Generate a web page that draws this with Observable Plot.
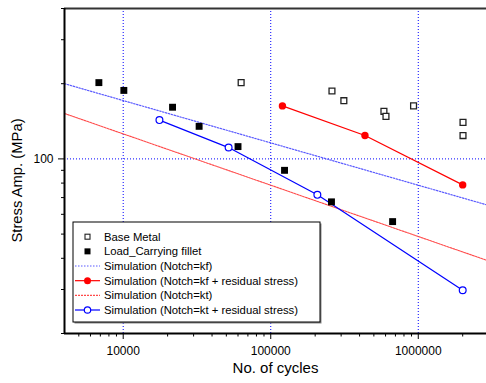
<!DOCTYPE html>
<html><head><meta charset="utf-8">
<script src="https://cdn.jsdelivr.net/npm/d3@7"></script>
<script src="https://cdn.jsdelivr.net/npm/@observablehq/plot@0.6"></script>
<style>body{margin:0;background:#fff;overflow:hidden}#chart{width:486px;height:383px}</style>
</head><body><div id="chart"></div>
<script>
// ---- data ----
const baseMetalN = [63000, 260000, 313000, 585000, 604000, 929000, 2010000, 2010000];
const baseMetalS = [202, 187, 171, 155, 148, 163, 140, 124];
const filletN = [6840, 10100, 21600, 32700, 60000, 124000, 258000, 670000];
const filletS = [202, 188, 161, 135, 112, 90, 67.3, 56.1];
const simKfN = [4000, 2900000];
const simKfS = [200, 65.5];
const simKfResN = [120000, 435000, 2000000];
const simKfResS = [163, 124, 78.7];
const simKtN = [4000, 2900000];
const simKtS = [152, 39.3];
const simKtResN = [17600, 51800, 207000, 2000000];
const simKtResS = [143, 111, 71.8, 29.8];
const xMajorTicks = [10000, 100000, 1000000];
const yMajorTicks = [100];
const xTitle = "No. of cycles";
const yTitle = "Stress Amp. (MPa)";
const legendLabels = [
  "Base Metal",
  "Load_Carrying fillet",
  "Simulation (Notch=kf)",
  "Simulation (Notch=kf + residual stress)",
  "Simulation (Notch=kt)",
  "Simulation (Notch=kt + residual stress)"
];

const xDomain = [4000, 2900000];
const yDomain = [20, 400];
const xMinorTicks = [];
for (const d of [1000, 10000, 100000, 1000000]) for (let k = 2; k <= 9; k++) {
  const v = k * d; if (v > xDomain[0] && v < xDomain[1]) xMinorTicks.push(v);
}
const yMinorTicks = [];
for (const d of [10, 100]) for (let k = 2; k <= 9; k++) {
  const v = k * d; if (v >= yDomain[0] && v <= yDomain[1] && v !== 100) yMinorTicks.push(v);
}

const zip = (xs, ys) => xs.map((x, i) => ({x, y: ys[i]}));
const base = zip(baseMetalN, baseMetalS);
const fillet = zip(filletN, filletS);
const kf = zip(simKfN, simKfS);
const kfRes = zip(simKfResN, simKfResS);
const kt = zip(simKtN, simKtS);
const ktRes = zip(simKtResN, simKtResS);

const font = "'Liberation Sans', Arial, Helvetica, sans-serif";
const BLUE = "#0000ff", RED = "#ff0000", KF = "#5a5aff", KT = "#ff4a4a";

const plot = Plot.plot({
  width: 486, height: 383,
  marginLeft: 64, marginRight: 0, marginTop: 8, marginBottom: 50,
  style: {fontFamily: font, fontSize: "12px", background: "white", color: "black"},
  x: {type: "log", domain: xDomain},
  y: {type: "log", domain: yDomain},
  marks: [
    Plot.ruleX(xMajorTicks, {stroke: BLUE, strokeDasharray: "1,2", strokeWidth: 1}),
    Plot.ruleY(yMajorTicks, {stroke: BLUE, strokeDasharray: "1,2", strokeWidth: 1}),
    Plot.line(kf, {x: "x", y: "y", stroke: KF, strokeDasharray: "1.5,1.5", strokeWidth: 1.2}),
    Plot.line(kt, {x: "x", y: "y", stroke: KT, strokeDasharray: "2,1", strokeWidth: 1.1}),
    Plot.line(kfRes, {x: "x", y: "y", stroke: RED, strokeWidth: 1.2}),
    Plot.line(ktRes, {x: "x", y: "y", stroke: BLUE, strokeWidth: 1.2}),
    Plot.dot(kfRes, {x: "x", y: "y", fill: RED, r: 3.7}),
    Plot.dot(ktRes, {x: "x", y: "y", fill: "white", stroke: BLUE, strokeWidth: 1.2, r: 3.4}),
    Plot.dot(base, {x: "x", y: "y", symbol: "square", r: 3.3, fill: "white", stroke: "#222", strokeWidth: 1.3}),
    Plot.dot(fillet, {x: "x", y: "y", symbol: "square", r: 3.9, fill: "black"}),
    Plot.ruleY([yDomain[1]], {stroke: "#333", strokeWidth: 2}),
    Plot.ruleY([yDomain[0]], {stroke: "black", strokeWidth: 2}),
    Plot.ruleX([xDomain[0]], {stroke: "black", strokeWidth: 2}),
    Plot.axisX(xMajorTicks, {tickSize: 6, tickPadding: 6.7, tickFormat: d => String(d), fontSize: 12, label: null}),
    Plot.axisX(xMinorTicks, {tickSize: 3.5, tickFormat: () => "", label: null}),
    Plot.axisY(yMajorTicks, {tickSize: 6, tickPadding: 5, tickFormat: d => String(d), fontSize: 12, label: null}),
    Plot.axisY(yMinorTicks, {tickSize: 3, tickFormat: () => "", label: null}),
    Plot.text([xTitle], {text: d => d, frameAnchor: "bottom", dy: 39, fontSize: 15, textAnchor: "middle"}),
    Plot.text([yTitle], {text: d => d, frameAnchor: "left", dx: -47, dy: 9.5, rotate: -90, fontSize: 14.8, textAnchor: "middle"})
  ]
});

// ---- legend ----
const svg = d3.select(plot);
const lg = svg.append("g").attr("font-family", font).attr("font-size", 11.3).attr("text-anchor", "start");
lg.append("rect").attr("x", 74.5).attr("y", 223.5).attr("width", 247).attr("height", 100).attr("fill", "#888");
lg.append("rect").attr("x", 73).attr("y", 222).attr("width", 247).attr("height", 100)
  .attr("fill", "white").attr("stroke", "black").attr("stroke-width", 1);
const row0 = 236.7, rowH = 14.66, sx0 = 75, sx1 = 100, sm = 87.5, tx = 104;
legendLabels.forEach((label, i) => {
  const y = row0 + i * rowH;
  const g = lg.append("g");
  if (i === 0) g.append("rect").attr("x", sm - 2.5).attr("y", y - 2.5).attr("width", 5).attr("height", 5)
      .attr("fill", "white").attr("stroke", "#222").attr("stroke-width", 1.1);
  if (i === 1) g.append("rect").attr("x", sm - 3).attr("y", y - 3).attr("width", 6).attr("height", 6).attr("fill", "black");
  if (i === 2) g.append("line").attr("x1", sx0).attr("x2", sx1).attr("y1", y).attr("y2", y)
      .attr("stroke", KF).attr("stroke-dasharray", "1.5,1.5").attr("stroke-width", 1.2);
  if (i === 3) {
    g.append("line").attr("x1", sx0).attr("x2", sx1).attr("y1", y).attr("y2", y).attr("stroke", RED).attr("stroke-width", 1.2);
    g.append("circle").attr("cx", sm).attr("cy", y).attr("r", 3.5).attr("fill", RED);
  }
  if (i === 4) g.append("line").attr("x1", sx0).attr("x2", sx1).attr("y1", y).attr("y2", y)
      .attr("stroke", KT).attr("stroke-dasharray", "2,1").attr("stroke-width", 1.1);
  if (i === 5) {
    g.append("line").attr("x1", sx0).attr("x2", sx1).attr("y1", y).attr("y2", y).attr("stroke", BLUE).attr("stroke-width", 1.2);
    g.append("circle").attr("cx", sm).attr("cy", y).attr("r", 3.2).attr("fill", "white").attr("stroke", BLUE).attr("stroke-width", 1.2);
  }
  g.append("text").attr("x", tx).attr("y", y).attr("dy", "0.36em").attr("fill", "black").attr("text-anchor", "start").text(label);
});

document.getElementById("chart").appendChild(plot);
</script>
</body></html>
